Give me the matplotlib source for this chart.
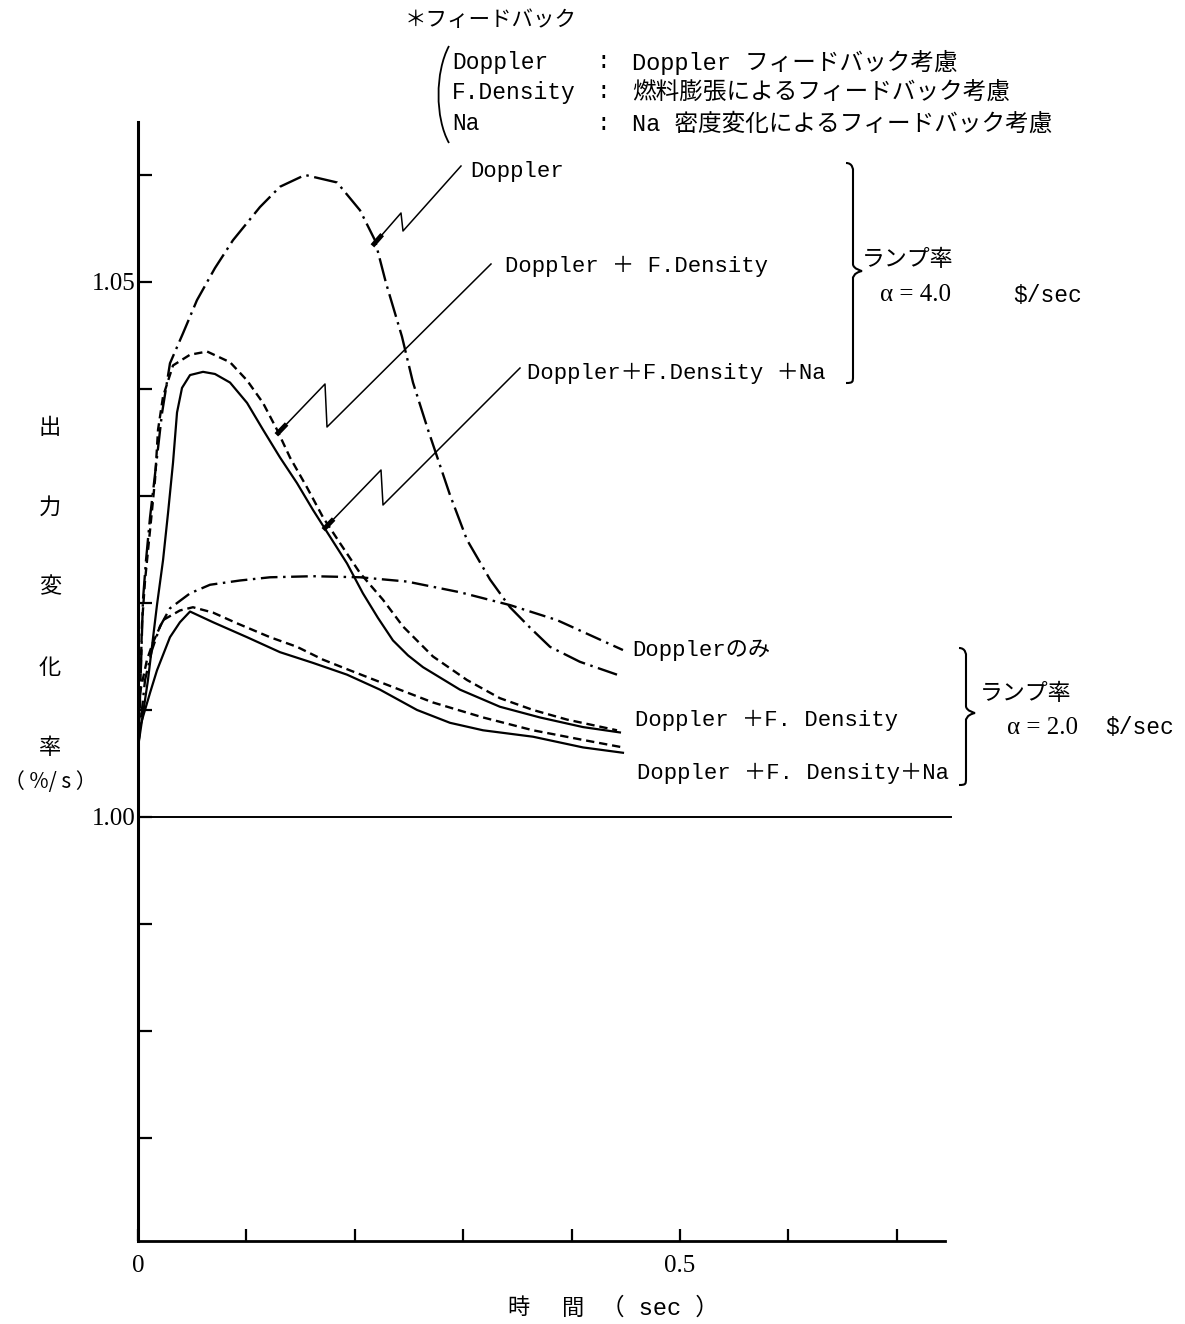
import matplotlib
matplotlib.use("Agg")
import matplotlib.pyplot as plt
from matplotlib.path import Path
from matplotlib.patches import PathPatch
from matplotlib.lines import Line2D

plt.rcParams['font.family'] = ['Liberation Serif', 'Noto Sans CJK JP', 'DejaVu Sans']
plt.rcParams['lines.scale_dashes'] = False

# ---------------- data (time in sec, power change rate) ----------------
# ramp rate alpha = 4.0 $/sec
t_dop4 = [0.0, 0.0018, 0.0046, 0.0074, 0.0111, 0.0175, 0.0221, 0.0295, 0.0415, 0.0544,
          0.0710, 0.0876, 0.1125, 0.1310, 0.1541, 0.1836, 0.2048, 0.2186, 0.2288, 0.2435,
          0.2537, 0.2675, 0.2878, 0.3035, 0.3247, 0.3432, 0.3616, 0.3801, 0.4077, 0.4419]
v_dop4 = [1.0065, 1.0110, 1.0203, 1.0240, 1.0280, 1.0336, 1.0377, 1.0424, 1.0452, 1.0483,
          1.0513, 1.0539, 1.0570, 1.0589, 1.0600, 1.0593, 1.0567, 1.0539, 1.0499, 1.0449,
          1.0406, 1.0362, 1.0301, 1.0259, 1.0222, 1.0196, 1.0177, 1.0159, 1.0145, 1.0133]

t_fd4 = [0.0, 0.0018, 0.0037, 0.0065, 0.0111, 0.0157, 0.0185, 0.0231, 0.0323, 0.0480,
         0.0637, 0.0849, 0.1006, 0.1153, 0.1282, 0.1402, 0.1559, 0.1707, 0.1863, 0.2048,
         0.2260, 0.2445, 0.2721, 0.3035, 0.3339, 0.3644, 0.3958, 0.4419]
v_fd4 = [1.0065, 1.0110, 1.0181, 1.0221, 1.0268, 1.0315, 1.0362, 1.0393, 1.0422, 1.0432,
         1.0435, 1.0425, 1.0408, 1.0387, 1.0362, 1.0336, 1.0308, 1.0280, 1.0256, 1.0228,
         1.0203, 1.0178, 1.0150, 1.0128, 1.0111, 1.0100, 1.0091, 1.0081]

t_na4 = [0.0, 0.0092, 0.0175, 0.0231, 0.0277, 0.0323, 0.0360, 0.0406, 0.0480, 0.0600,
         0.0710, 0.0849, 0.1006, 0.1153, 0.1310, 0.1467, 0.1614, 0.1771, 0.1928, 0.2075,
         0.2214, 0.2352, 0.2491, 0.2629, 0.2970, 0.3339, 0.3708, 0.4105, 0.4446]
v_na4 = [1.0065, 1.0128, 1.0198, 1.0240, 1.0284, 1.0331, 1.0378, 1.0401, 1.0413, 1.0416,
         1.0414, 1.0406, 1.0387, 1.0362, 1.0336, 1.0312, 1.0287, 1.0262, 1.0237, 1.0209,
         1.0186, 1.0165, 1.0151, 1.0140, 1.0119, 1.0103, 1.0093, 1.0084, 1.0079]

# ramp rate alpha = 2.0 $/sec
t_dop2 = [0.0, 0.0065, 0.0129, 0.0203, 0.0295, 0.0480, 0.0664, 0.0941, 0.1218, 0.1614,
          0.2048, 0.2482, 0.2970, 0.3432, 0.3865, 0.4474]
v_dop2 = [1.0065, 1.0128, 1.0156, 1.0178, 1.0195, 1.0209, 1.0217, 1.0221, 1.0224, 1.0225,
          1.0224, 1.0220, 1.0210, 1.0198, 1.0184, 1.0156]

t_fd2 = [0.0, 0.0018, 0.0083, 0.0138, 0.0231, 0.0387, 0.0507, 0.0692, 0.0913, 0.1218,
         0.1467, 0.1707, 0.1956, 0.2260, 0.2721, 0.3183, 0.3644, 0.4105, 0.4474]
v_fd2 = [1.0065, 1.0116, 1.0147, 1.0163, 1.0184, 1.0193, 1.0196, 1.0191, 1.0181, 1.0168,
         1.0159, 1.0147, 1.0137, 1.0125, 1.0107, 1.0093, 1.0081, 1.0072, 1.0065]

t_na2 = [0.0, 0.0018, 0.0111, 0.0175, 0.0295, 0.0387, 0.0480, 0.0692, 0.1006, 0.1310,
         0.1614, 0.1928, 0.2232, 0.2574, 0.2878, 0.3183, 0.3644, 0.4105, 0.4474]
v_na2 = [1.0063, 1.0084, 1.0116, 1.0137, 1.0168, 1.0182, 1.0192, 1.0182, 1.0168, 1.0154,
         1.0144, 1.0133, 1.0119, 1.0100, 1.0088, 1.0081, 1.0075, 1.0065, 1.0060]

y_ticks = [0.97, 0.98, 0.99, 1.00, 1.01, 1.02, 1.03, 1.04, 1.05, 1.06]
y_labels = ['', '', '', '1.00', '', '', '', '', '1.05', '']
x_ticks = [0.0, 0.1, 0.2, 0.3, 0.4, 0.5, 0.6, 0.7]
x_labels = ['0', '', '', '', '', '0.5', '', '']

# ---------------- figure ----------------
W, H = 1185, 1324
fig = plt.figure(figsize=(W / 100, H / 100), dpi=100)


def fx(x):
    return x / W


def fy(y):
    return 1 - y / H


ax = fig.add_axes([fx(138), fy(1241), fx(945) - fx(138), fy(122) - fy(1241)])
ax.set_xlim(0, 0.7445)
ax.set_ylim(0.96037, 1.06495)

for s in ['top', 'right']:
    ax.spines[s].set_visible(False)
ax.spines['left'].set_linewidth(2.2)
ax.spines['bottom'].set_linewidth(2.0)

ax.set_yticks(y_ticks)
ax.set_yticklabels(y_labels)
ax.set_xticks(x_ticks)
ax.set_xticklabels(x_labels)
ax.tick_params(axis='y', direction='in', length=10, width=1.6, pad=2, labelsize=18)
ax.tick_params(axis='x', direction='in', length=9, width=1.6, pad=10, labelsize=18)

# reference line at 1.00
ax.plot([0, 0.75], [1.0, 1.0], color='black', lw=1.4, clip_on=False)

K = 'black'
dd4 = (0, (17, 4, 1.8, 4))
dd2 = (0, (12, 4, 1.8, 4))
dsh = (0, (6, 3.5))

ax.plot(t_dop4, v_dop4, color=K, lw=1.7, linestyle=dd4)
ax.plot(t_fd4, v_fd4, color=K, lw=1.7, linestyle=dsh)
ax.plot(t_na4, v_na4, color=K, lw=1.6, linestyle='-')
ax.plot(t_dop2, v_dop2, color=K, lw=1.7, linestyle=dd2)
ax.plot(t_fd2, v_fd2, color=K, lw=1.7, linestyle=dsh)
ax.plot(t_na2, v_na2, color=K, lw=1.6, linestyle='-')

# ---------------- annotation helpers (pixel layout) ----------------
MONO = ['Liberation Mono', 'Noto Sans CJK JP', 'DejaVu Sans']
SERIF = ['Liberation Serif', 'Noto Sans CJK JP', 'DejaVu Sans']
CJK = ['Noto Sans CJK JP', 'DejaVu Sans']


def txt(x, y, s, size=16, ha='left', family=None, **kw):
    fig.text(fx(x), fy(y), s, ha=ha, va='center', fontsize=size,
             family=family if family else MONO, **kw)


def pline(xs, ys, lw=1.1):
    fig.add_artist(Line2D([fx(v) for v in xs], [fy(v) for v in ys],
                          color=K, lw=lw, transform=fig.transFigure))


def zig(pts):
    xs = [p[0] for p in pts]
    ys = [p[1] for p in pts]
    pline(xs, ys, 1.1)
    x1, y1 = pts[-2]
    x2, y2 = pts[-1]
    fr = 10.0 / ((x2 - x1) ** 2 + (y2 - y1) ** 2) ** 0.5
    pline([x2 - (x2 - x1) * fr, x2], [y2 - (y2 - y1) * fr, y2], 3.5)


def brace(xs, y0, y1, ym, w=9, c=7):
    """right-pointing curly brace in pixel coords"""
    codes = [Path.MOVETO, Path.CURVE4, Path.CURVE4, Path.CURVE4,
             Path.LINETO, Path.CURVE4, Path.CURVE4, Path.CURVE4,
             Path.CURVE4, Path.CURVE4, Path.CURVE4,
             Path.LINETO, Path.CURVE4, Path.CURVE4, Path.CURVE4]
    P = [(xs - c, y0), (xs, y0), (xs, y0 + c), (xs, y0 + c),
         (xs, ym - c), (xs, ym - 2), (xs + w, ym), (xs + w, ym),
         (xs, ym + 2), (xs, ym + c), (xs, ym + c),
         (xs, y1 - c), (xs, y1 - 1), (xs, y1), (xs - c, y1)]
    P = [(fx(a), fy(b)) for a, b in P]
    fig.add_artist(PathPatch(Path(P, codes), fill=False, lw=1.5, ec=K,
                             transform=fig.transFigure))


# header block
txt(405, 20, '＊フィードバック', size=15.5, family=CJK)
paren = Path([(fx(449), fy(46)), (fx(435), fy(72)), (fx(435), fy(118)), (fx(449), fy(143))],
             [Path.MOVETO, Path.CURVE4, Path.CURVE4, Path.CURVE4])
fig.add_artist(PathPatch(paren, fill=False, lw=1.3, ec=K, transform=fig.transFigure))
txt(452, 62, 'Doppler', size=16.5)
txt(452, 92, 'F.Density', size=16.5)
txt(452, 124, 'Na', size=16.5)
for yy in (62, 92, 124):
    txt(603, yy, ':', ha='center', size=16.5)
txt(632, 62, 'Doppler フィードバック考慮', size=17)
txt(632, 92, '燃料膨張によるフィードバック考慮', size=17)
txt(632, 124, 'Na 密度変化によるフィードバック考慮', size=17)

# alpha = 4.0 labels
txt(470, 172, 'Doppler')
txt(505, 266, 'Doppler ＋ F.Density')
txt(527, 373, 'Doppler＋F.Density ＋Na')
zig([(461, 166), (403, 231), (401, 213), (374, 244)])
zig([(491, 264), (327, 427), (325, 384), (278, 433)])
zig([(520, 368), (383, 505), (381, 470), (325, 528)])
brace(853, 163, 383, 271)
txt(862, 260, 'ランプ率', family=CJK, size=16.5)
txt(880, 295, 'α = 4.0', family=SERIF, size=18)
txt(1013, 295, '$/sec', size=16.5)

# alpha = 2.0 labels
txt(632, 650, 'Dopplerのみ')
txt(635, 720, 'Doppler ＋F. Density')
txt(637, 773, 'Doppler ＋F. Density＋Na')
brace(966, 648, 785, 713)
txt(980, 694, 'ランプ率', family=CJK, size=16.5)
txt(1007, 728, 'α = 2.0', family=SERIF, size=18)
txt(1105, 728, '$/sec', size=16.5)

# y axis label (vertical)
for ch, yy in zip(['出', '力', '変', '化', '率'], [428, 507, 587, 667, 748]):
    txt(50, yy, ch, size=16, ha='center', family=CJK)
txt(50, 782, '（ %/ s ）', size=15, ha='center', family=CJK)

# x axis label
txt(518, 1308, '時', size=16, ha='center', family=CJK)
txt(573, 1308, '間', size=16, ha='center', family=CJK)
txt(660, 1308, '（ sec ）', size=17, ha='center', family=MONO)

fig.savefig('out.png', dpi=100)
